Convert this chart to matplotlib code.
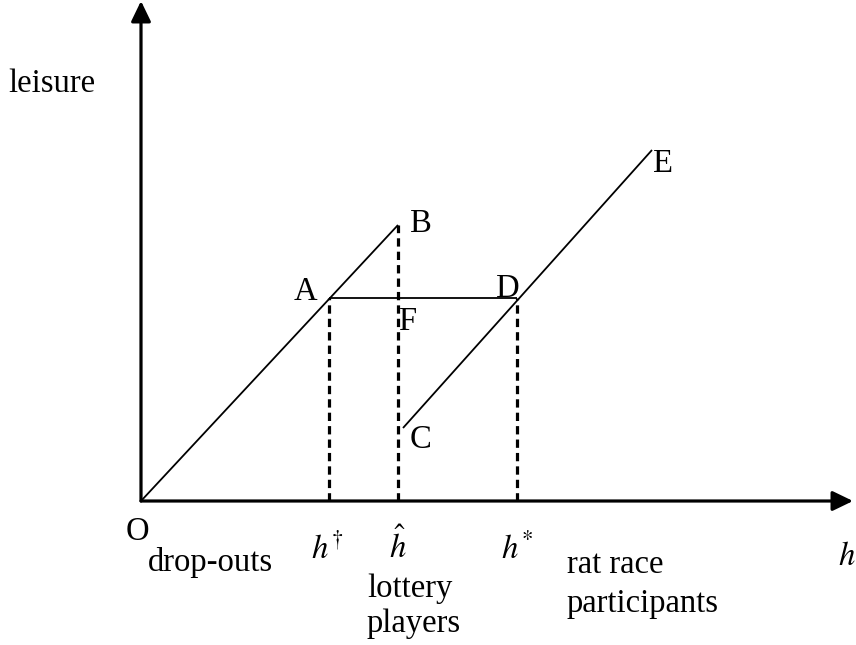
import matplotlib
matplotlib.use("Agg")
import matplotlib.pyplot as plt

plt.rcParams['font.family'] = ['Liberation Serif', 'DejaVu Serif']
plt.rcParams['mathtext.fontset'] = 'stix'

# diagram points (origin at O)
O = (0, 0)
A = (188, 203)
B = (257, 276)
F = (257, 203)
C = (262, 73)
D = (376, 203)
E = (511, 351)

# positions on the h axis
h_dagger = 188
h_hat = 257
h_star = 376

X_END = 712
Y_END = 500

FS = 23.5

fig = plt.figure(figsize=(8.56, 6.45), dpi=100)
ax = fig.add_axes([0, 0, 1, 1])
ax.set_xlim(-141, 715)
ax.set_ylim(-144, 501)
ax.axis('off')

# axes with arrow heads
arrow = dict(arrowstyle='-|>,head_length=0.62,head_width=0.3', lw=2.3,
             color='black', mutation_scale=20, shrinkA=0, shrinkB=0)
ax.annotate('', xy=(0, Y_END), xytext=O, arrowprops=arrow)
ax.annotate('', xy=(X_END, 0), xytext=O, arrowprops=arrow)

# solid lines
thin = dict(color='black', lw=1.3, solid_capstyle='butt')
ax.plot([O[0], B[0]], [O[1], B[1]], **thin)
ax.plot([C[0], E[0]], [C[1], E[1]], **thin)
ax.plot([A[0], D[0]], [A[1], D[1]], **thin)

# dashed verticals
dash = dict(color='black', lw=2.3, dashes=(2.6, 1.6))
ax.plot([h_dagger, h_dagger], [0, A[1]], **dash)
ax.plot([h_hat, h_hat], [0, B[1]], **dash)
ax.plot([h_star, h_star], [0, D[1]], **dash)

# point labels
pt = dict(fontsize=FS, ha='left', va='baseline')
ax.text(153, 201, 'A', **pt)
ax.text(269, 269, 'B', **pt)
ax.text(269, 53, 'C', **pt)
ax.text(355, 204, 'D', **pt)
ax.text(512, 329, 'E', **pt)
ax.text(257, 171, 'F', **pt)
ax.text(-15, -39, 'O', **pt)

# axis labels
ax.text(-133, 409, 'leisure', **pt)
ax.text(697, -64, r'$h$', fontsize=FS, ha='left', va='baseline')
ax.text(h_dagger - 2, -57, r'$h^{\dagger}$', fontsize=FS, ha='center', va='baseline')
ax.text(h_hat, -57, r'$\hat{h}$', fontsize=FS, ha='center', va='baseline')
ax.text(h_star, -57, r'$h^{*}$', fontsize=FS, ha='center', va='baseline')

# region labels
ax.text(7, -70, 'drop-outs', **pt)
ax.text(226, -96, 'lottery', **pt)
ax.text(226, -131, 'players', **pt)
ax.text(426, -72, 'rat race', **pt)
ax.text(426, -111, 'participants', **pt)

fig.savefig('out.png', dpi=100)
